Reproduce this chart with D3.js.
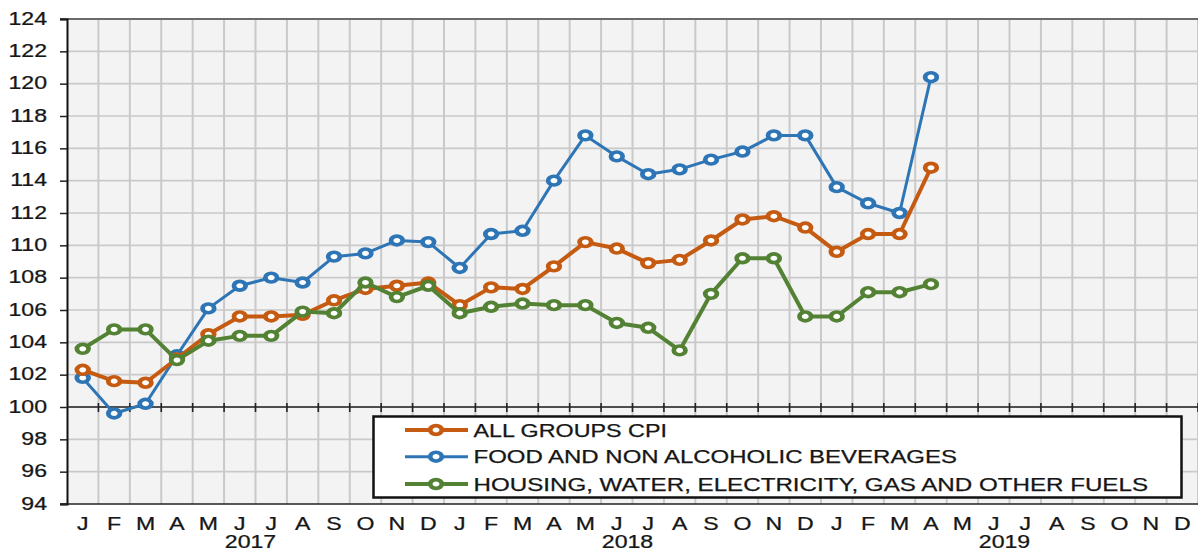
<!DOCTYPE html>
<html>
<head>
<meta charset="utf-8">
<script src="https://cdn.jsdelivr.net/npm/d3@7"></script>
<style>
  html, body { margin: 0; padding: 0; background: #ffffff; }
  svg { display: block; }
  text { font-family: "Liberation Sans", Arial, sans-serif; fill: #161616; stroke: #161616; stroke-width: 0.25px; }
</style>
</head>
<body>
<svg id="chart" width="1198" height="550"></svg>
<script>
// ---------------- DATA ----------------
const monthLabels = ["J","F","M","A","M","J","J","A","S","O","N","D",
                     "J","F","M","A","M","J","J","A","S","O","N","D",
                     "J","F","M","A","M","J","J","A","S","O","N","D"];
const yearLabels = ["2017", "2018", "2019"];
const yTicks = [94, 96, 98, 100, 102, 104, 106, 108, 110, 112, 114, 116, 118, 120, 122, 124];

const seriesNames = ["ALL GROUPS CPI",
                     "FOOD AND NON ALCOHOLIC BEVERAGES",
                     "HOUSING, WATER, ELECTRICITY, GAS AND OTHER FUELS"];

const allGroups = [102.3, 101.6, 101.5, 103.0, 104.5, 105.6, 105.6, 105.7, 106.6, 107.3, 107.5, 107.7,
                   106.3, 107.4, 107.3, 108.7, 110.2, 109.8, 108.9, 109.1, 110.3, 111.6, 111.8, 111.1,
                   109.6, 110.7, 110.7, 114.8];
const food      = [101.8, 99.6, 100.2, 103.2, 106.1, 107.5, 108.0, 107.7, 109.3, 109.5, 110.3, 110.2,
                   108.6, 110.7, 110.9, 114.0, 116.8, 115.5, 114.4, 114.7, 115.3, 115.8, 116.8, 116.8,
                   113.6, 112.6, 112.0, 120.4];
const housing   = [103.6, 104.8, 104.8, 102.9, 104.1, 104.4, 104.4, 105.9, 105.8, 107.7, 106.8, 107.5,
                   105.8, 106.2, 106.4, 106.3, 106.3, 105.2, 104.9, 103.5, 107.0, 109.2, 109.2, 105.6,
                   105.6, 107.1, 107.1, 107.6];

const colors = ["#c55a11", "#2e75b6", "#548235"];
const lineWidths = [4, 3, 4];

// ---------------- LAYOUT ----------------
(function () {
const svg = d3.select("#chart");
const pL = 67, pR = 1198, pT = 19, pB = 504;
const SX = 1.32;          // horizontal stretch of glyphs seen in the reference
const FS = 17.5;

const x = d3.scaleBand().domain(d3.range(monthLabels.length)).range([pL, pR]).padding(0);
const y = d3.scaleLinear().domain([94, 124]).range([pB, pT]);
const bx = i => pL + i * x.step();  // category boundary
const cx = i => x(i) + x.bandwidth() / 2;

// plot background
svg.append("rect").attr("x", pL).attr("y", pT)
   .attr("width", pR - pL).attr("height", pB - pT).attr("fill", "#f3f3f3");

// grid
const grid = svg.append("g");
grid.append("g").selectAll("line").data(yTicks.filter(v => v > 94 && v < 124)).join("line")
   .attr("x1", pL).attr("x2", pR).attr("y1", d => y(d)).attr("y2", d => y(d))
   .attr("stroke", "#c9c9c9").attr("stroke-width", 1.6);
grid.append("g").selectAll("line").data(d3.range(1, monthLabels.length + 1)).join("line")
   .attr("x1", d => bx(d)).attr("x2", d => bx(d)).attr("y1", pT).attr("y2", pB)
   .attr("stroke", "#c9c9c9").attr("stroke-width", 2);

// top border
svg.append("line").attr("x1", pL - 7).attr("x2", pR).attr("y1", pT).attr("y2", pT)
   .attr("stroke", "#6a6a6a").attr("stroke-width", 2);
// bottom border
svg.append("line").attr("x1", pL - 7).attr("x2", pR).attr("y1", pB).attr("y2", pB)
   .attr("stroke", "#222").attr("stroke-width", 1.6);

// y axis
const yAxis = d3.axisLeft(y).tickValues(yTicks).tickSize(7).tickFormat("");
const yg = svg.append("g").attr("transform", `translate(${pL},0)`).call(yAxis);
yg.select(".domain").attr("stroke", "#111").attr("stroke-width", 2);
yg.selectAll(".tick line").attr("stroke", "#222").attr("stroke-width", 1.5);
svg.append("g").selectAll("text").data(yTicks).join("text")
   .attr("transform", d => `translate(47,${y(d) + 5.5}) scale(${SX},1)`)
   .attr("text-anchor", "end").attr("font-size", FS).text(d => d);

// x axis at 100
const x0 = y(100);
svg.append("line").attr("x1", pL).attr("x2", pR).attr("y1", x0).attr("y2", x0)
   .attr("stroke", "#222").attr("stroke-width", 1.6);
svg.append("g").selectAll("line").data(d3.range(1, monthLabels.length + 1)).join("line")
   .attr("x1", d => bx(d)).attr("x2", d => bx(d)).attr("y1", x0 - 4).attr("y2", x0 + 5)
   .attr("stroke", "#222").attr("stroke-width", 1.6);

// month labels
svg.append("g").selectAll("text").data(monthLabels).join("text")
   .attr("transform", (d, i) => `translate(${cx(i)},529.5) scale(${SX},1)`)
   .attr("text-anchor", "middle").attr("font-size", FS).text(d => d);
// year labels
svg.append("g").selectAll("text").data(yearLabels).join("text")
   .attr("transform", (d, i) => `translate(${bx(6 + 12 * i) - 5},548) scale(${SX},1)`)
   .attr("text-anchor", "middle").attr("font-size", FS).text(d => d);

// series
const series = [allGroups, food, housing];
const line = d3.line().x((d, i) => cx(i)).y(d => y(d));
// draw order: food, all groups, housing (housing on top)
[1, 0, 2].forEach(k => {
  const g = svg.append("g");
  g.append("path").datum(series[k]).attr("d", line).attr("fill", "none")
   .attr("stroke", colors[k]).attr("stroke-width", lineWidths[k]).attr("stroke-linejoin", "round");
  g.selectAll("circle").data(series[k]).join("circle")
   .attr("transform", (d, i) => `translate(${cx(i)},${y(d)}) scale(${SX},1)`)
   .attr("r", 4.4).attr("fill", "#ffffff").attr("stroke", colors[k]).attr("stroke-width", 3.6);
});

// legend
const lg = svg.append("g");
lg.append("rect").attr("x", 373.5).attr("y", 416.5).attr("width", 808).attr("height", 81)
  .attr("fill", "#ffffff").attr("stroke", "#111").attr("stroke-width", 2.5);
const legY = [430, 456.7, 484];
const legEnd = [667, 957, 1148];
seriesNames.forEach((name, k) => {
  lg.append("line").attr("x1", 405).attr("x2", 468).attr("y1", legY[k]).attr("y2", legY[k])
    .attr("stroke", colors[k]).attr("stroke-width", lineWidths[k]);
  lg.append("circle").attr("transform", `translate(436,${legY[k]}) scale(${SX},1)`)
    .attr("r", 4.4).attr("fill", "#fff").attr("stroke", colors[k]).attr("stroke-width", 3.6);
  lg.append("text").attr("x", 473.5).attr("y", legY[k] + 6.5).attr("font-size", 18)
    .attr("textLength", legEnd[k] - 473.5).attr("lengthAdjust", "spacingAndGlyphs").text(name);
});
})();
</script>
</body>
</html>
